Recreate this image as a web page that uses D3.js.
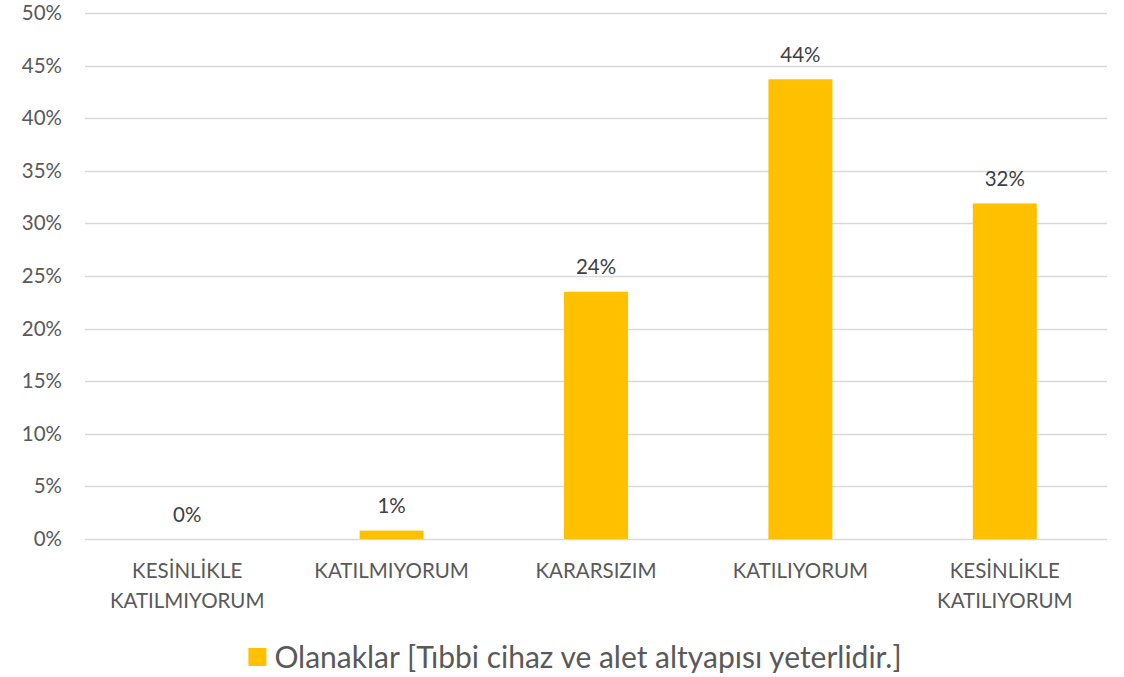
<!DOCTYPE html>
<html>
<head>
<meta charset="utf-8">
<script src="https://cdn.jsdelivr.net/npm/d3@7"></script>
<style>
  html, body { margin: 0; padding: 0; background: #fff; }
  svg { display: block; font-family: Lato, "Open Sans", sans-serif; }
</style>
</head>
<body>
<svg id="chart" width="1124" height="677"></svg>
<script>
// Survey answers and their shares (percent)
const categories = [
  ["KESİNLİKLE", "KATILMIYORUM"],
  ["KATILMIYORUM"],
  ["KARARSIZIM"],
  ["KATILIYORUM"],
  ["KESİNLİKLE", "KATILIYORUM"]
];
const values = [0, 0.8, 23.5, 43.7, 31.9];
const valueLabels = ["0%", "1%", "24%", "44%", "32%"];
const yTicks = [0, 5, 10, 15, 20, 25, 30, 35, 40, 45, 50];
const seriesName = "Olanaklar [Tıbbi cihaz ve alet altyapısı yeterlidir.]";

const svg = d3.select("#chart");
const margin = { left: 85, right: 17, top: 13, bottom: 138 };
const W = 1124, H = 677;
const plotW = W - margin.left - margin.right;
const plotH = H - margin.top - margin.bottom;

const x = d3.scaleBand()
  .domain(d3.range(categories.length))
  .range([margin.left, margin.left + plotW])
  .paddingInner(0.687)
  .paddingOuter(0.3435);

const y = d3.scaleLinear()
  .domain([0, 50])
  .range([margin.top + plotH, margin.top]);

const textColor = "#595959";

// Horizontal gridlines
svg.append("g")
  .selectAll("line")
  .data(yTicks)
  .join("line")
  .attr("x1", margin.left)
  .attr("x2", margin.left + plotW)
  .attr("y1", d => Math.round(y(d)) + 0.5)
  .attr("y2", d => Math.round(y(d)) + 0.5)
  .attr("stroke", "#d9d9d9")
  .attr("stroke-width", 1.5);

// Y axis labels
const yAxis = d3.axisLeft(y).tickValues(yTicks).tickFormat(d => d + "%").tickSize(0).tickPadding(0);
const gy = svg.append("g")
  .attr("transform", `translate(${margin.left - 23},0)`)
  .call(yAxis);
gy.select(".domain").remove();
gy.selectAll("text")
  .attr("fill", textColor)
  .attr("font-size", 20.5)
  .attr("font-family", "Lato, sans-serif");

// Bars
svg.append("g")
  .selectAll("rect")
  .data(values)
  .join("rect")
  .attr("x", (d, i) => x(i))
  .attr("width", x.bandwidth())
  .attr("y", d => y(d))
  .attr("height", d => y(0) - y(d))
  .attr("fill", "#ffc000");

// Value labels above bars
svg.append("g")
  .selectAll("text")
  .data(values)
  .join("text")
  .attr("x", (d, i) => x(i) + x.bandwidth() / 2)
  .attr("y", d => y(d) - 17.5)
  .attr("text-anchor", "middle")
  .attr("fill", "#404040")
  .attr("font-size", 20.5)
  .text((d, i) => valueLabels[i]);

// Category labels
const cat = svg.append("g")
  .selectAll("text")
  .data(categories)
  .join("text")
  .attr("x", (d, i) => x(i) + x.bandwidth() / 2)
  .attr("y", y(0) + 39)
  .attr("text-anchor", "middle")
  .attr("fill", textColor)
  .attr("font-size", 20.5);
cat.selectAll("tspan")
  .data(d => d)
  .join("tspan")
  .attr("x", function () { return d3.select(this.parentNode).attr("x"); })
  .attr("dy", (d, i) => i === 0 ? 0 : 30)
  .text(d => d);

// Legend (swatch + series name), sitting slightly right of centre
const legend = svg.append("g");
const legendText = legend.append("text")
  .attr("y", 668)
  .attr("fill", textColor)
  .attr("font-size", 30)
  .text(seriesName);
const tw = legendText.node().getComputedTextLength();
const sw = 18, gap = 8;
const total = sw + gap + tw;
const lx = (W - total) / 2 + 13;
legend.append("rect")
  .attr("x", lx)
  .attr("y", 648)
  .attr("width", sw)
  .attr("height", sw)
  .attr("fill", "#ffc000");
legendText.attr("x", lx + sw + gap);
</script>
</body>
</html>
